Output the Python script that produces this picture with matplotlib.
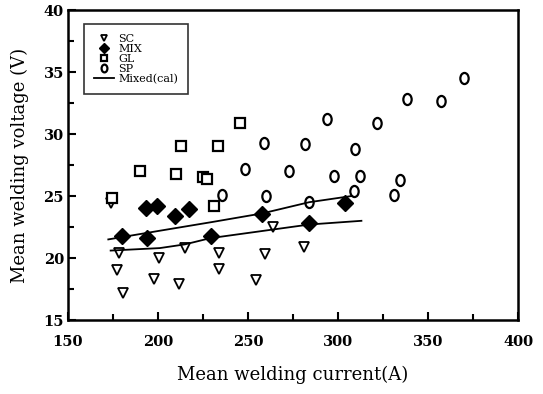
import numpy as np
import matplotlib
matplotlib.use('Agg')
import matplotlib.pyplot as plt
from matplotlib.path import Path
from matplotlib.transforms import Affine2D
from matplotlib.ticker import MultipleLocator

# dados
sc_x = [174, 178.5, 177, 180.7, 200.4, 198, 211.7, 215.2, 234, 233.7, 254.4, 259.6, 264, 281.2]
sc_y = [24.4, 20.4, 19.0, 17.2, 20.0, 18.3, 17.9, 20.8, 20.4, 19.1, 18.2, 20.3, 22.5, 20.9]

mix_x = [179.8, 194.1, 193.3, 199.3, 209.3, 217.2, 229.4, 257.9, 284.1, 303.9]
mix_y = [21.8, 21.6, 24.0, 24.2, 23.4, 23.95, 21.8, 23.55, 22.8, 24.4]

gl_x = [174.3, 190, 210, 212.8, 224.8, 227.4, 231.1, 233.5, 245.6]
gl_y = [24.8, 27.0, 26.8, 29.05, 26.55, 26.4, 24.2, 29.0, 30.9]

sp_x = [235.7, 248.3, 259, 260, 273, 281.7, 284, 293.7, 298, 309, 309.6, 312.2,
        321.8, 331.3, 334.4, 338.1, 357.2, 370.2]
sp_y = [25.1, 27.15, 29.3, 25.0, 27.0, 29.2, 24.5, 31.2, 26.6, 25.4, 28.8, 26.6,
        30.9, 25.1, 26.3, 32.8, 32.7, 34.5]

# curvas calculadas (Mixed)
cal1_x = [172.4, 201, 230, 258, 284, 307.6]
cal1_y = [21.5, 22.2, 22.9, 23.6, 24.5, 25.0]
cal2_x = [173.7, 201, 215, 229, 264, 284, 313]
cal2_y = [20.6, 20.8, 21.1, 21.6, 22.3, 22.7, 23.0]

plt.rcParams['font.family'] = ['DejaVu Serif']

fig = plt.figure(figsize=(5.43, 3.94), dpi=100)
ax = fig.add_axes([0.1252, 0.1878, 0.954 - 0.1252, 0.9746 - 0.1878])

oval = Path.unit_circle().transformed(Affine2D().scale(0.75, 1.0))

ax.plot(sc_x, sc_y, linestyle='none', marker='v', ms=7, mfc='white', mec='black', mew=1.3, label='SC')
ax.plot(mix_x, mix_y, linestyle='none', marker='D', ms=8, mfc='black', mec='black', label='MIX')
ax.plot(gl_x, gl_y, linestyle='none', marker='s', ms=6.5, mfc='white', mec='black', mew=1.6, label='GL')
ax.plot(sp_x, sp_y, linestyle='none', marker=oval, ms=8, mfc='white', mec='black', mew=1.6, label='SP')
ax.plot(cal1_x, cal1_y, color='black', lw=1.3, label='Mixed(cal)')
ax.plot(cal2_x, cal2_y, color='black', lw=1.3)

ax.set_xlim(150, 400)
ax.set_ylim(15, 40)
ax.xaxis.set_major_locator(MultipleLocator(50))
ax.xaxis.set_minor_locator(MultipleLocator(25))
ax.yaxis.set_major_locator(MultipleLocator(5))
ax.yaxis.set_minor_locator(MultipleLocator(2.5))
ax.tick_params(which='both', direction='in', top=False, right=False, width=1.5)
ax.tick_params(which='major', length=6, labelsize=10.5)
ax.tick_params(which='minor', length=4)
ax.tick_params(axis='x', which='major', pad=11)
ax.tick_params(axis='y', which='major', pad=3)
for lab in ax.get_xticklabels() + ax.get_yticklabels():
    lab.set_fontweight('bold')
for s in ax.spines.values():
    s.set_linewidth(1.8)

ax.set_xlabel('Mean welding current(A)', fontsize=13, labelpad=12)
ax.set_ylabel('Mean welding voltage (V)', fontsize=13, labelpad=10)

leg = ax.legend(loc='upper left', fontsize=8, frameon=True, fancybox=False,
                edgecolor='black', handlelength=1.8, handletextpad=0.4,
                labelspacing=0.0, borderpad=0.9, markerscale=0.7,
                bbox_to_anchor=(0.035, 0.955), borderaxespad=0)
leg.get_frame().set_linewidth(1.2)

fig.savefig('out.png', dpi=100)
